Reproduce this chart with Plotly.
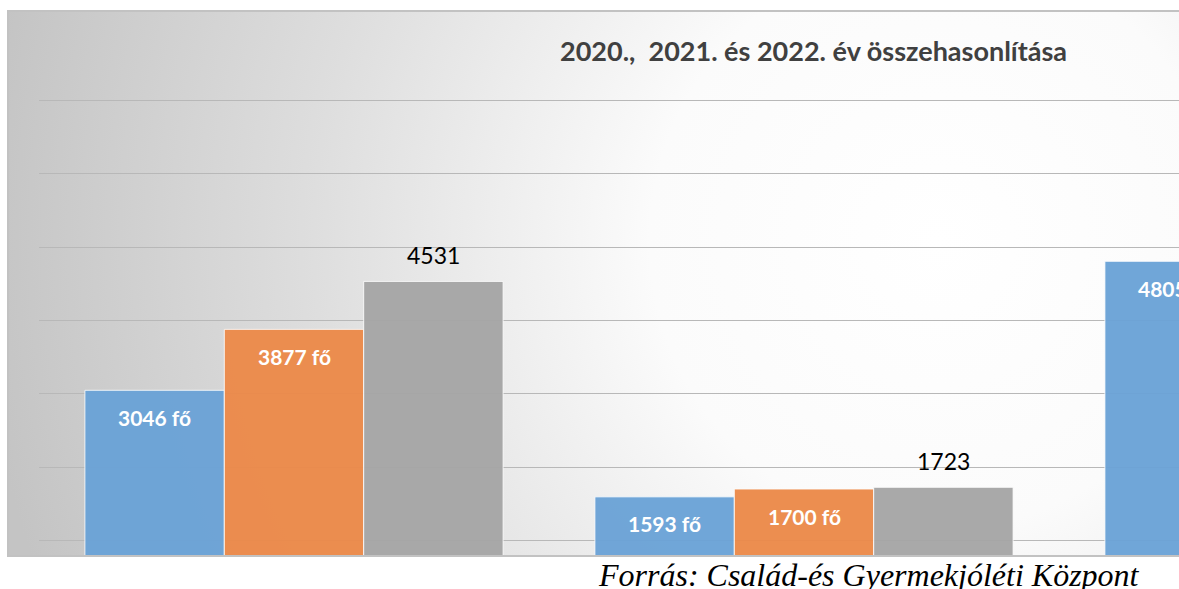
import base64
import plotly.graph_objects as go

# ---- data ----
categories = ["1", "2", "3"]
series_names = ["2020", "2021", "2022"]
values_2020 = [3046, 1593, 4805]
values_2021 = [3877, 1700, None]
values_2022 = [4531, 1723, None]
title_text = "2020.,  2021. és 2022. év összehasonlítása"
source_text = "Forrás: Család-és Gyermekjóléti Központ"

W, H = 1179, 589
colors = ["#6BA3D7", "#EC8A4A", "#A6A6A6"]
bargap = 0.18
x_pos = list(range(len(categories)))

fig = go.Figure()
for name, vals, col in zip(series_names, [values_2020, values_2021, values_2022], colors):
    fig.add_trace(go.Bar(
        x=x_pos, y=vals, name=name,
        marker=dict(color=col, line=dict(color="rgba(255,255,255,0.85)", width=1)),
        opacity=0.96,
        showlegend=False, hoverinfo="skip",
    ))

# data labels
bw = (1 - bargap) / 3
offsets = [-bw, 0, bw]
annotations = []
for k, (vals, off) in enumerate(zip([values_2020, values_2021, values_2022], offsets)):
    for i, v in enumerate(vals):
        if v is None:
            continue
        if k < 2:
            annotations.append(dict(
                x=x_pos[i] + off, y=v, xref="x", yref="y", text=f"{v} fő",
                showarrow=False, yanchor="middle", yshift=-27,
                font=dict(family="Lato", size=21, color="white", weight="bold")))
        else:
            annotations.append(dict(
                x=x_pos[i] + off, y=v, xref="x", yref="y", text=f"{v}",
                showarrow=False, yanchor="middle", yshift=26,
                font=dict(family="Lato", size=23, color="black")))

annotations.append(dict(
    x=813 / W, y=1 - 50 / H, xref="paper", yref="paper", text=title_text,
    showarrow=False, xanchor="center", yanchor="middle",
    font=dict(family="Lato", size=27, color="#404040", weight="bold")))
annotations.append(dict(
    x=869 / W, y=1 - 575 / H, xref="paper", yref="paper", text=source_text,
    showarrow=False, xanchor="center", yanchor="middle",
    font=dict(family="Liberation Serif", size=32, color="black", style="italic")))

# gradient background (svg image)
fw, fh = W - 8, 555 - 11
svg = f'''<svg xmlns="http://www.w3.org/2000/svg" width="{fw}" height="{fh}" viewBox="0 0 {fw} {fh}" preserveAspectRatio="none">
<defs><radialGradient id="g" gradientUnits="userSpaceOnUse" cx="930" cy="230" r="960">
<stop offset="0" stop-color="#ffffff"/><stop offset="0.3" stop-color="#fbfbfb"/>
<stop offset="0.65" stop-color="#dedede"/><stop offset="1" stop-color="#c4c4c4"/>
</radialGradient></defs><rect x="0" y="0" width="{fw}" height="{fh}" fill="url(#g)"/></svg>'''
src = "data:image/svg+xml;base64," + base64.b64encode(svg.encode()).decode()

fig.update_layout(
    width=W, height=H,
    margin=dict(l=0, r=0, t=0, b=0),
    paper_bgcolor="white", plot_bgcolor="rgba(0,0,0,0)",
    barmode="group", bargap=bargap, bargroupgap=0,
    annotations=annotations,
    images=[dict(source=src, xref="paper", yref="paper", x=8 / W, y=1 - 11 / H,
                 sizex=fw / W, sizey=fh / H, xanchor="left", yanchor="top",
                 sizing="stretch", layer="below")],
    shapes=[dict(type="rect", xref="paper", yref="paper", x0=8 / W, x1=1.02,
                 y0=1 - 556 / H, y1=1 - 11 / H, line=dict(color="#c2c2c2", width=2),
                 layer="above")],
    xaxis=dict(domain=[39 / W, 1], range=[-0.5, (W - 39) / 510 - 0.5],
               showticklabels=False, showgrid=False, zeroline=False, showline=False),
    yaxis=dict(domain=[1 - 555 / H, 1 - 60 / H], range=[800, 7550],
               tick0=0, dtick=1000, showticklabels=False, showgrid=True,
               gridcolor="#b8b8b8", gridwidth=1, zeroline=False, showline=False),
)

fig.write_html("out.html")
